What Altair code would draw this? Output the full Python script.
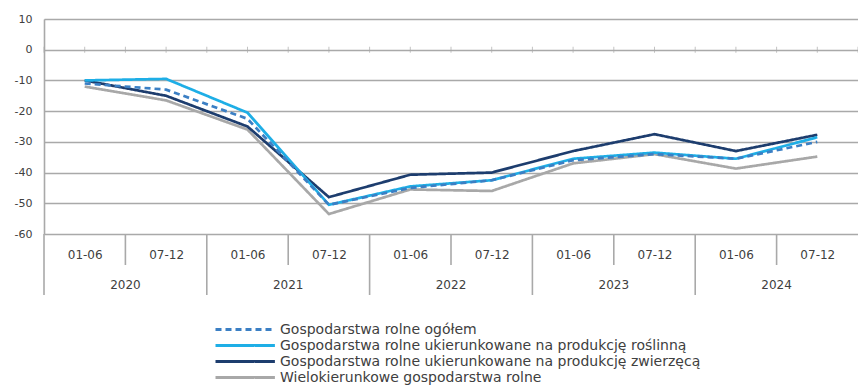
import json
import altair as alt
import pandas as pd

# ---- data -------------------------------------------------------------
years = ["2020", "2021", "2022", "2023", "2024"]
halves = ["01-06", "07-12"]
period_labels = [h for _ in years for h in halves]

series_names = [
    "Gospodarstwa rolne ogółem",
    "Gospodarstwa rolne ukierunkowane na produkcję roślinną",
    "Gospodarstwa rolne ukierunkowane na produkcję zwierzęcą",
    "Wielokierunkowe gospodarstwa rolne",
]
general = [-11, -13, -22.5, -50.5, -45, -42.5, -36, -34, -35.5, -30]
crop = [-10, -9.5, -20.5, -50.5, -44.5, -42.5, -35.5, -33.5, -35.5, -28.5]
animal = [-10, -15, -25, -48, -40.7, -40, -33, -27.5, -33, -27.7]
multi = [-12, -16.5, -26, -53.5, -45.5, -46, -37, -34, -38.7, -34.8]

series_colors = ["#3b7fc4", "#1eaee6", "#1d3d6e", "#a8a8a8"]
series_dash = [[6, 4], [1, 0], [1, 0], [1, 0]]
y_ticks = [-60, -50, -40, -30, -20, -10, 0, 10]

# draw order: grey below, then navy, cyan, dashed on top
draw_order = [3, 2, 1, 0]
values_by_series = [general, crop, animal, multi]
rows = []
for k, s in enumerate(draw_order):
    for i, v in enumerate(values_by_series[s]):
        rows.append({"series": series_names[s], "idx": i, "value": v, "o": k})
df = pd.DataFrame(rows)

n = len(period_labels)
short_div = pd.DataFrame({"idx": [i + 0.5 for i in range(0, n, 2)]})
long_div = pd.DataFrame({"idx": [i - 0.5 for i in range(0, n, 2)]})
year_df = pd.DataFrame({"idx": [i + 0.5 for i in range(0, n, 2)], "year": years})
zero_ticks = pd.DataFrame({"idx": [i * 0.5 - 0.5 for i in range(0, 2 * n + 1)],
                           "value": [0] * (2 * n + 1)})

W, H = 814, 215
FONT = "DejaVu Sans"
TXT = "#404040"
GRID = "#a9a9a9"

xscale = alt.Scale(domain=[-0.5, n - 0.5], nice=False, zero=False)
yscale = alt.Scale(domain=[-60, 10], nice=False)

label_expr = f"{json.dumps(period_labels)}[datum.value]"

x_axis = alt.Axis(values=list(range(n)), labelExpr=label_expr, grid=False,
                  ticks=False, domain=False, labelPadding=15, labelFontSize=12,
                  labelFont=FONT, labelColor=TXT, title=None)
y_axis = alt.Axis(values=y_ticks, labelExpr="'' + datum.value", grid=True,
                  gridColor=GRID, gridWidth=1.6,
                  domain=True, domainColor=GRID, domainWidth=1.6, ticks=False,
                  labelOverlap=False, labelPadding=12, labelFontSize=11,
                  labelFont=FONT, labelColor=TXT, title=None)

X = alt.X("idx:Q", scale=xscale, axis=x_axis, title=None)

legend = alt.Legend(orient="none", legendX=218, legendY=303, padding=0,
                    symbolType="M-9,0H0.9", symbolSize=144,
                    symbolStrokeWidth=3, labelFontSize=14,
                    labelFont=FONT, labelColor=TXT, rowPadding=1, labelOffset=3,
                    labelLimit=600, title=None)

lines = alt.Chart(df).mark_line(strokeWidth=2.7, interpolate="linear").encode(
    x=X,
    y=alt.Y("value:Q", scale=yscale, axis=y_axis, title=None),
    color=alt.Color("series:N", title=None,
                    scale=alt.Scale(domain=series_names, range=series_colors),
                    legend=legend),
    strokeDash=alt.StrokeDash("series:N", title=None,
                              scale=alt.Scale(domain=series_names, range=series_dash),
                              legend=legend),
    detail="o:O",
)

# small ticks on the zero line
ticks0 = alt.Chart(zero_ticks).mark_tick(color=GRID, thickness=1, size=6, orient="vertical").encode(
    x=X,
    y=alt.Y("value:Q", scale=yscale, axis=y_axis, title=None),
)

short_rules = alt.Chart(short_div).mark_rule(color=GRID, strokeWidth=1.6).encode(
    x=X, y=alt.value(H), y2=alt.value(H + 31),
)
long_rules = alt.Chart(long_div).mark_rule(color=GRID, strokeWidth=1.6).encode(
    x=X, y=alt.value(H), y2=alt.value(H + 61),
)
year_text = alt.Chart(year_df).mark_text(fontSize=12, font=FONT, color=TXT, baseline="middle").encode(
    x=X, y=alt.value(H + 51), text="year:N",
)

chart = alt.layer(lines, ticks0, short_rules, long_rules, year_text).properties(
    width=W, height=H,
    autosize=alt.AutoSizeParams(type="none"),
    padding={"left": 44, "top": 19, "right": 0, "bottom": 154},
).configure_view(stroke=None).configure(background="white")

chart.save("out.html", embed_options={"renderer": "svg", "actions": False})
